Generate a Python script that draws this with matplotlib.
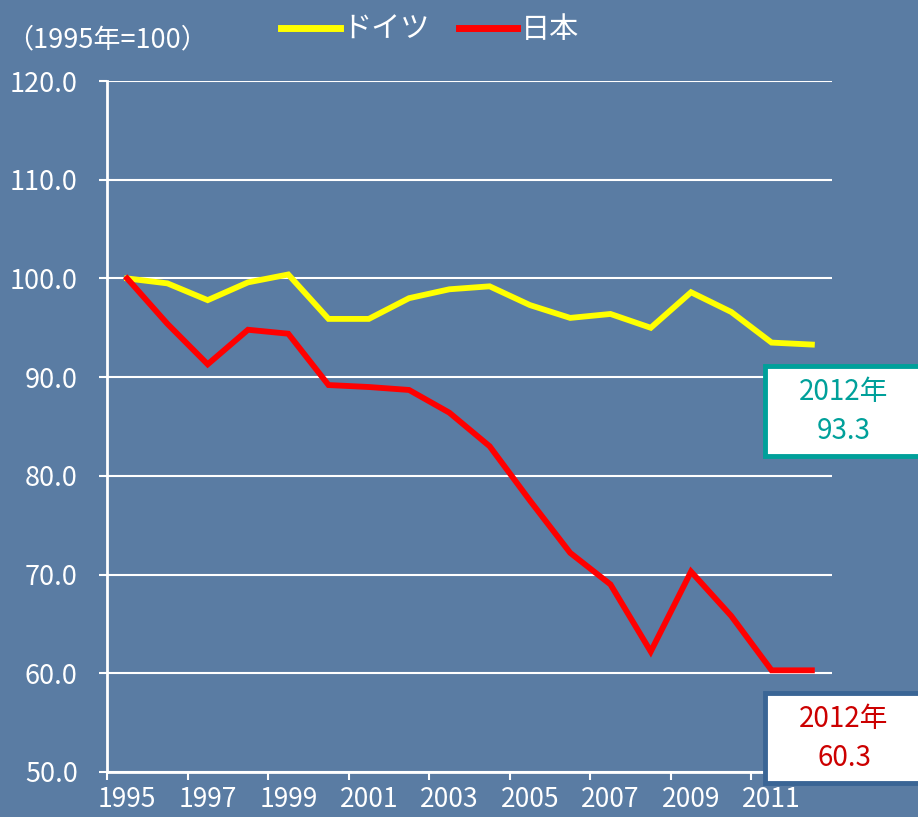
import matplotlib.pyplot as plt
from matplotlib.patches import Rectangle
from matplotlib.ticker import FixedLocator, NullFormatter

plt.rcParams['font.family'] = ['Liberation Sans Narrow', 'Noto Sans CJK JP', 'DejaVu Sans']

years = list(range(1995, 2013))
germany = [100.0, 99.5, 97.8, 99.6, 100.4, 95.9, 95.9, 98.0, 98.9, 99.2,
           97.3, 96.0, 96.4, 95.0, 98.6, 96.6, 93.5, 93.3]
japan = [100.0, 95.4, 91.3, 94.8, 94.4, 89.2, 89.0, 88.7, 86.4, 83.0,
         77.5, 72.2, 69.0, 62.2, 70.3, 65.8, 60.3, 60.3]
series_names = ['ドイツ', '日本']
label_years = list(range(1995, 2012, 2))
y_ticks = [50, 60, 70, 80, 90, 100, 110, 120]

bg = '#5a7ca3'
fig = plt.figure(figsize=(9.18, 8.17), dpi=100, facecolor=bg)
ax = fig.add_axes([107 / 918, 1 - 772 / 817, (832 - 107) / 918, (772 - 81) / 817])
ax.set_facecolor(bg)

ax.plot(years, germany, color='#ffff00', lw=4.2, label=series_names[0], solid_joinstyle='miter')
ax.plot(years, japan, color='#ff0000', lw=4.2, label=series_names[1], solid_joinstyle='miter')

ax.set_xlim(years[0] - 0.5, years[-1] + 0.5)
ax.set_ylim(50, 120)
ax.set_yticks(y_ticks)
ax.set_yticklabels([f'{v:.1f}' for v in y_ticks])
ax.yaxis.grid(True, color='white', lw=1.5)
ax.set_axisbelow(True)

# tick marks between categories, labels on category centres
ax.xaxis.set_major_locator(FixedLocator([y - 0.5 for y in label_years]))
ax.xaxis.set_major_formatter(NullFormatter())
ax.xaxis.set_minor_locator(FixedLocator(label_years))
ax.set_xticklabels([str(y) for y in label_years], minor=True)
ax.tick_params(axis='x', which='major', direction='out', length=6, width=1.5, color='white')
ax.tick_params(axis='x', which='minor', length=0, pad=10, labelsize=19, labelcolor='white')
ax.tick_params(axis='y', direction='out', length=6, width=1.5, color='white',
               labelsize=19.5, labelcolor='white', pad=15)

for s in ['top', 'right']:
    ax.spines[s].set_visible(False)
for s in ['left', 'bottom']:
    ax.spines[s].set_color('white')
    ax.spines[s].set_linewidth(2)

fig.text(6 / 918, 1 - 40 / 817, '（1995年=100）', color='white', fontsize=19.5, va='center', ha='left')

leg = fig.legend(loc='center', bbox_to_anchor=(430 / 918, 1 - 30 / 817), ncol=2, frameon=False,
                 fontsize=21, handlelength=2.0, handletextpad=0.1, columnspacing=1.0)
for t in leg.get_texts():
    t.set_color('white')
for h in leg.get_lines():
    h.set_linewidth(5)

# end-value callouts
boxes = [(germany[-1], '#00a09a', '#00a09a', 366, 456),
         (japan[-1], '#3a6595', '#cc0000', 693, 783)]
for val, edge, tcol, top, bot in boxes:
    fig.patches.append(Rectangle((765 / 918, 1 - bot / 817), 300 / 918, (bot - top) / 817,
                                 transform=fig.transFigure, facecolor='white',
                                 edgecolor=edge, lw=3.5, zorder=5))
    mid = (top + bot) / 2
    fig.text(844 / 918, 1 - (mid - 19) / 817, f'{years[-1]}年', color=tcol, fontsize=20,
             ha='center', va='center', zorder=6)
    fig.text(844 / 918, 1 - (mid + 20) / 817, f'{val:.1f}', color=tcol, fontsize=20,
             ha='center', va='center', zorder=6)

fig.savefig('out.png', dpi=100, facecolor=bg)
